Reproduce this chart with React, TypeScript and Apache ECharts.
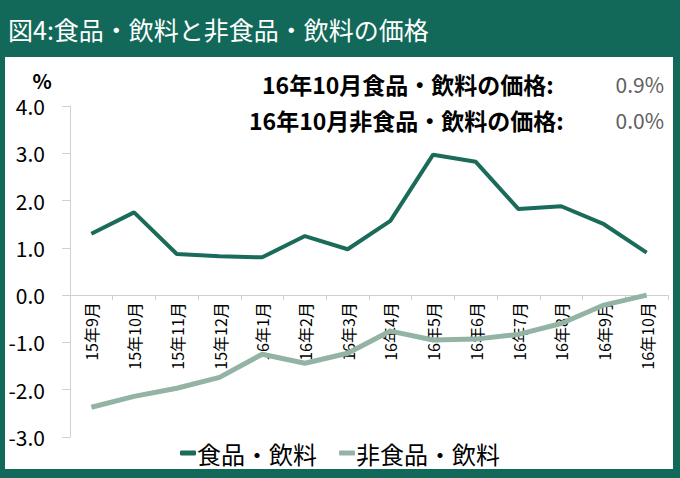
import React, { useEffect, useRef } from "react";
import * as echarts from "echarts";

const categories = ["15年9月", "15年10月", "15年11月", "15年12月", "16年1月", "16年2月", "16年3月", "16年4月", "16年5月", "16年6月", "16年7月", "16年8月", "16年9月", "16年10月"];
const foodValues = [1.3, 1.75, 0.87, 0.82, 0.8, 1.25, 0.97, 1.57, 2.97, 2.82, 1.82, 1.88, 1.5, 0.9];
const nonFoodValues = [-2.37, -2.14, -1.97, -1.74, -1.25, -1.44, -1.23, -0.76, -0.95, -0.93, -0.83, -0.6, -0.21, 0.0];
const seriesNames = ["食品・飲料", "非食品・飲料"];
const titleText = "図4:食品・飲料と非食品・飲料の価格";
const noteLabels = ["16年10月食品・飲料の価格:", "16年10月非食品・飲料の価格:"];
const noteValues = ["0.9%", "0.0%"];
const yMin = -3;
const yMax = 4;

const FONT = "'Noto Sans CJK JP', 'Noto Sans', sans-serif";
const GREEN = "#12695a";
const W = 680;
const H = 478;
const GRID_TOP = 106;
const GRID_BOTTOM = 41;

export default function App() {
  const ref = useRef<HTMLDivElement>(null);
  useEffect(() => {
    if (!ref.current) return;
    const chart = echarts.init(ref.current, null, { renderer: "svg" });
    const gridHeight = H - GRID_TOP - GRID_BOTTOM;
    const zeroOffset = -gridHeight * (0 - yMin) / (yMax - yMin);
    chart.setOption({
      animation: false,
      backgroundColor: GREEN,
      textStyle: { fontFamily: FONT },
      grid: { left: 70, right: 12, top: GRID_TOP, bottom: GRID_BOTTOM, containLabel: false, outerBoundsMode: "none" },
      xAxis: {
        type: "category",
        data: categories,
        boundaryGap: true,
        position: "bottom",
        offset: zeroOffset,
        axisLine: { onZero: false, lineStyle: { color: "#d0d0d0", width: 1 } },
        axisTick: { show: true, length: 5, lineStyle: { color: "#d0d0d0" } },
        axisLabel: { rotate: 90, color: "#000", fontSize: 16, fontFamily: FONT, interval: 0, margin: 7 },
      },
      yAxis: {
        type: "value",
        min: yMin,
        max: yMax,
        interval: 1,
        axisLine: { show: true, lineStyle: { color: "#d0d0d0" } },
        axisTick: { show: true, inside: false, length: 8, lineStyle: { color: "#d0d0d0" } },
        splitLine: { show: false },
        axisLabel: { color: "#000", fontSize: 21, fontFamily: FONT, margin: 25, formatter: (v: number) => v.toFixed(1) },
      },
      legend: {
        data: seriesNames,
        left: "center",
        top: 436,
        icon: "roundRect",
        itemWidth: 16,
        itemHeight: 5,
        itemGap: 22,
        textStyle: { fontSize: 24, color: "#000", fontFamily: FONT, padding: [0, 0, 0, -4] },
      },
      series: [
        {
          name: seriesNames[0],
          type: "line",
          data: foodValues,
          symbol: "none",
          lineStyle: { color: "#1a6b5a", width: 4 },
          itemStyle: { color: "#1a6b5a" },
        },
        {
          name: seriesNames[1],
          type: "line",
          data: nonFoodValues,
          symbol: "none",
          lineStyle: { color: "#93b3a5", width: 5 },
          itemStyle: { color: "#93b3a5" },
        },
      ],
      graphic: [
        { type: "rect", z: -1, shape: { x: 5, y: 57, width: 668, height: 412 }, style: { fill: "#ffffff" } },
        { type: "text", x: 8, y: 29, style: { text: titleText, fill: "#fff", fontSize: 25, fontFamily: FONT, textVerticalAlign: "middle" } },
        { type: "text", x: 42, y: 80, style: { text: "%", fill: "#000", fontSize: 20, fontWeight: "bold", fontFamily: FONT, textAlign: "center", textVerticalAlign: "middle" } },
        { type: "text", x: 262, y: 84, style: { text: noteLabels[0], fill: "#000", fontSize: 23, fontWeight: "bold", fontFamily: FONT, textAlign: "left", textVerticalAlign: "middle" } },
        { type: "text", x: 249, y: 120, style: { text: noteLabels[1], fill: "#000", fontSize: 23, fontWeight: "bold", fontFamily: FONT, textAlign: "left", textVerticalAlign: "middle" } },
        { type: "text", x: 664, y: 84, style: { text: noteValues[0], fill: "#606060", fontSize: 21, fontFamily: FONT, textAlign: "right", textVerticalAlign: "middle" } },
        { type: "text", x: 664, y: 120, style: { text: noteValues[1], fill: "#606060", fontSize: 21, fontFamily: FONT, textAlign: "right", textVerticalAlign: "middle" } },
      ],
    });
    return () => chart.dispose();
  }, []);
  return <div ref={ref} style={{ position: "fixed", left: 0, top: 0, width: W, height: H }} />;
}
